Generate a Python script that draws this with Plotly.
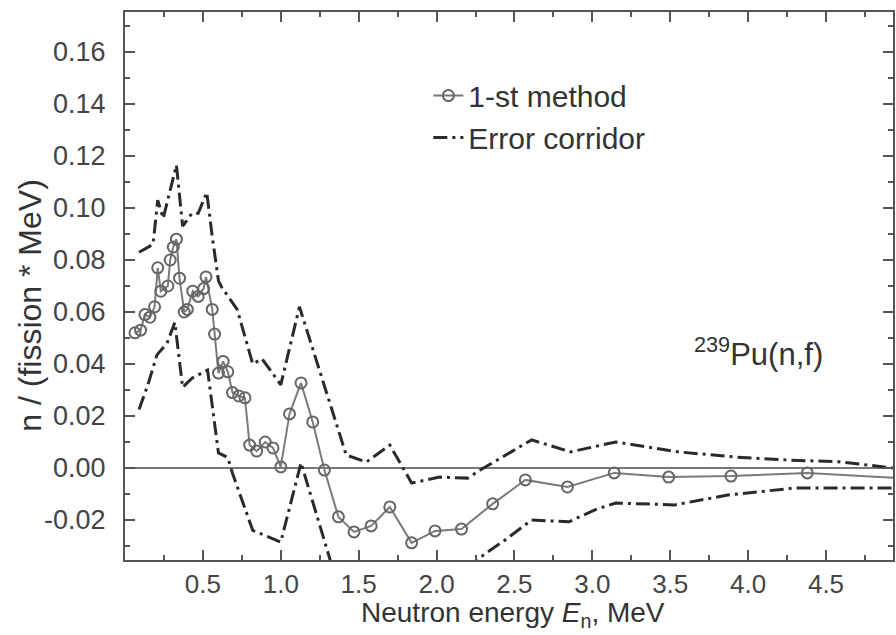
import plotly.graph_objects as go

# 1-st method
method_e = [0.064, 0.10, 0.128, 0.16, 0.19, 0.21, 0.23, 0.275, 0.29, 0.31, 0.33, 0.35, 0.38, 0.40,
            0.435, 0.47, 0.505, 0.52, 0.56, 0.575, 0.60, 0.63, 0.66, 0.69, 0.73, 0.77, 0.80, 0.845,
            0.90, 0.95, 1.00, 1.056, 1.13, 1.205, 1.28, 1.37, 1.47, 1.58, 1.70, 1.84, 1.99, 2.16,
            2.36, 2.57, 2.84, 3.14, 3.49, 3.89, 4.38, 5.0]
method_v = [0.052, 0.053, 0.059, 0.058, 0.062, 0.077, 0.068, 0.070, 0.080, 0.085, 0.088, 0.073, 0.060, 0.061,
            0.068, 0.066, 0.069, 0.0735, 0.061, 0.0515, 0.0365, 0.041, 0.037, 0.029, 0.0277, 0.027, 0.0088, 0.0065,
            0.010, 0.0077, 0.0004, 0.0208, 0.0327, 0.0177, -0.0008, -0.0188, -0.0246, -0.0223, -0.015, -0.0288, -0.0242, -0.0235,
            -0.0138, -0.0046, -0.0073, -0.0019, -0.0035, -0.0031, -0.0019, -0.004]

# Error corridor, upper
upper_e = [0.09, 0.18, 0.21, 0.245, 0.33, 0.37, 0.43, 0.47, 0.525, 0.56, 0.60, 0.62, 0.72, 0.82, 0.88,
           1.0, 1.12, 1.42, 1.55, 1.70, 1.84, 2.02, 2.20, 2.28, 2.61, 2.86, 3.15, 3.55, 3.92, 4.28, 4.58, 4.93]
upper_v = [0.083, 0.086, 0.103, 0.096, 0.1165, 0.093, 0.098, 0.098, 0.106, 0.089, 0.072, 0.0696, 0.061, 0.040, 0.042,
           0.032, 0.062, 0.005, 0.0023, 0.0088, -0.0058, -0.0035, -0.0039, -0.0008, 0.0108, 0.0062, 0.010, 0.0062, 0.0042, 0.003, 0.0024, 0.0]

# Error corridor, lower
lower_e = [0.09, 0.147, 0.205, 0.27, 0.32, 0.37, 0.43, 0.53, 0.60, 0.66, 0.69, 0.82, 1.0, 1.13,
           1.29, 1.32, 1.8, 2.26, 2.30, 2.44, 2.61, 2.85, 3.02, 3.15, 3.53, 3.87, 4.30, 4.93]
lower_v = [0.0225, 0.032, 0.0435, 0.048, 0.056, 0.031, 0.0345, 0.0377, 0.0058, 0.004, -0.002, -0.024, -0.0285, 0.002,
           -0.030, -0.036, -0.05, -0.036, -0.0335, -0.0277, -0.020, -0.0207, -0.016, -0.0135, -0.0142, -0.0104, -0.0077, -0.0077]

y_tickvals = [-0.02, 0.0, 0.02, 0.04, 0.06, 0.08, 0.10, 0.12, 0.14, 0.16]
y_ticktext = ["-0.02", "0.00", "0.02", "0.04", "0.06", "0.08", "0.10", "0.12", "0.14", "0.16"]
x_tickvals = [0.5, 1.0, 1.5, 2.0, 2.5, 3.0, 3.5, 4.0, 4.5]
x_ticktext = ["0.5", "1.0", "1.5", "2.0", "2.5", "3.0", "3.5", "4.0", "4.5"]

FONT = "Liberation Sans, Arial, sans-serif"
AX = "#555555"
TXT = "#333333"

fig = go.Figure()

fig.add_trace(go.Scatter(
    x=[0, 4.93], y=[0, 0], mode="lines", line=dict(color="#777777", width=2),
    showlegend=False, hoverinfo="skip"))

fig.add_trace(go.Scatter(
    x=method_e, y=method_v, mode="lines+markers", name="1-st method",
    line=dict(color="#7a7a7a", width=2),
    marker=dict(symbol="circle-open", size=11, color="#666666", line=dict(width=2, color="#666666"))))

fig.add_trace(go.Scatter(
    x=upper_e, y=upper_v, mode="lines", name="Error corridor",
    line=dict(color="#2a2a2a", width=3, dash="14px,5px,3px,5px")))

fig.add_trace(go.Scatter(
    x=lower_e, y=lower_v, mode="lines", name="Error corridor lower", showlegend=False,
    line=dict(color="#2a2a2a", width=3, dash="14px,5px,3px,5px")))

fig.update_layout(
    width=896, height=635,
    margin=dict(l=125, r=1, t=12, b=75),
    paper_bgcolor="white", plot_bgcolor="white",
    font=dict(family=FONT, size=26, color=TXT),
    showlegend=True,
    legend=dict(x=0.395, y=0.895, xanchor="left", yanchor="top",
                bgcolor="rgba(0,0,0,0)", font=dict(size=30, color=TXT),
                tracegroupgap=0, itemwidth=30),
    xaxis=dict(range=[0, 4.93], showgrid=False, zeroline=False,
               showline=True, linecolor=AX, linewidth=2, mirror="allticks",
               ticks="inside", ticklen=10, tickwidth=2, tickcolor=AX,
               tickvals=x_tickvals, ticktext=x_ticktext,
               tickfont=dict(size=26, color="#444444"),
               minor=dict(dtick=0.25, tick0=0, ticks="inside", ticklen=5, tickwidth=2, tickcolor=AX),
               ticklabelstandoff=0),
    yaxis=dict(range=[-0.0354, 0.1754], showgrid=False, zeroline=False,
               showline=True, linecolor=AX, linewidth=2, mirror="allticks",
               ticks="inside", ticklen=10, tickwidth=2, tickcolor=AX,
               tickvals=y_tickvals, ticktext=y_ticktext,
               tickfont=dict(size=27, color="#444444"),
               minor=dict(dtick=0.01, tick0=0, ticks="inside", ticklen=5, tickwidth=2, tickcolor=AX),
               ticklabelstandoff=12),
    annotations=[
        dict(text="Neutron energy <i>E</i><sub>n</sub>, MeV", xref="paper", yref="paper",
             x=0.505, y=-0.099, showarrow=False, xanchor="center", yanchor="middle",
             font=dict(size=28, color=TXT)),
        dict(text="n / (fission * MeV)", xref="paper", yref="paper", x=-0.123, y=0.465,
             textangle=-90, showarrow=False, xanchor="center", yanchor="middle",
             font=dict(size=32, color=TXT)),
        dict(text="<sup>239</sup>Pu(n,f)", xref="paper", yref="paper", x=0.825, y=0.38,
             showarrow=False, xanchor="center", yanchor="middle",
             font=dict(size=31, color=TXT)),
    ],
)

fig.write_html("out.html")
